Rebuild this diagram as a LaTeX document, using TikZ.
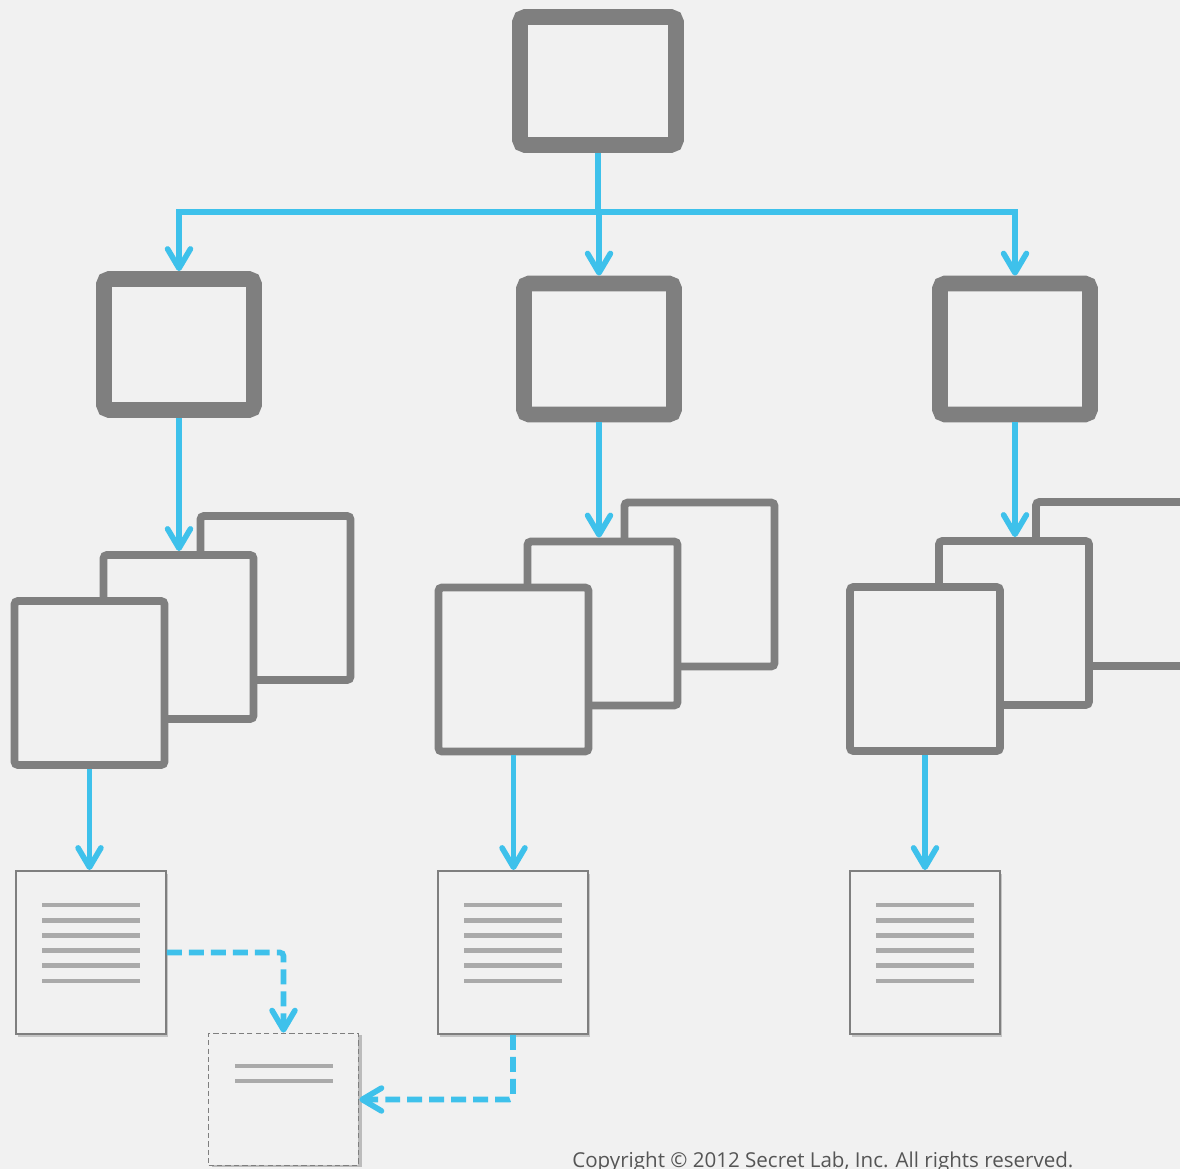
\documentclass[tikz,border=0pt]{standalone}
\usepackage{fontspec}
\setmainfont{Open Sans}
\usetikzlibrary{arrows.meta,shadows}
\definecolor{paper}{HTML}{F1F1F1}
\definecolor{framegray}{HTML}{7F7F7F}
\definecolor{flowblue}{HTML}{3EC1EB}
\definecolor{linegray}{HTML}{AAAAAA}
\definecolor{textgray}{HTML}{555555}

\begin{document}
\begin{tikzpicture}[x=0.02cm, y=-0.02cm,
    shade/.style={drop shadow={shadow xshift=1pt, shadow yshift=-1.5pt, opacity=.18, fill=black}},
    bigbox/.style={draw=framegray, line width=9pt, fill=paper, rounded corners=3pt, inner sep=0pt, shade},
    sheet/.style={draw=framegray, line width=4.5pt, fill=paper, rounded corners=2pt, inner sep=0pt,
        minimum width=3cm, minimum height=3.28cm, shade},
    doc/.style={draw=framegray, line width=1.1pt, fill=paper, inner sep=0pt,
        minimum width=3cm, minimum height=3.26cm, shade},
    note/.style={draw=framegray, line width=1pt, dash pattern=on 3pt off 1.8pt, fill=paper, inner sep=0pt,
        minimum width=3cm, minimum height=2.64cm,
        drop shadow={shadow xshift=2pt, shadow yshift=-1pt, opacity=.22, fill=black}},
    textline/.style={linegray, line width=2.8pt},
    flow/.style={flowblue, line width=3.2pt, -{Straight Barb[length=11pt, width=13pt, round]}},
    hop/.style={flowblue, line width=3.2pt},
    dflow/.style={flow, dash pattern=on 8.5pt off 4pt, rounded corners=2pt}]
    \path[use as bounding box, fill=paper] (0,0) rectangle (1180,1169);

    \node[bigbox, minimum width=3.12cm, minimum height=2.56cm] (root) at (598,81) {};
    \node[bigbox, minimum width=3cm, minimum height=2.62cm] (lview) at (179,344.5) {};
    \node[bigbox, minimum width=3cm, minimum height=2.62cm] (mview) at (599,349) {};
    \node[bigbox, minimum width=3cm, minimum height=2.62cm] (rview) at (1015,349) {};

    \foreach \s/\x/\y in {l/89.5/683, m/513.5/669.5, r/925/669}{
        \node[sheet] (\s back) at (\x+186,\y-85) {};
        \node[sheet] (\s mid) at (\x+89,\y-46) {};
        \node[sheet] (\s front) at (\x,\y) {};
    }

    \foreach \s/\x in {l/91, m/513, r/925}{
        \node[doc] (\s doc) at (\x,952.5) {};
        \foreach \i in {0,...,5}
            \draw[textline] ([shift={(-49,-47.5+15.2*\i)}]\s doc.center) -- ++(98,0);
    }

    \node[note] (note) at (283.5,1099.5) {};
    \draw[textline] ([shift={(-48.5,-33.5)}]note.center) -- ++(98,0);
    \draw[textline] ([shift={(-48.5,-18.5)}]note.center) -- ++(98,0);

    \coordinate (split) at (598,212);
    \draw[hop] (root) -- (split);
    \foreach \s in {l,m,r}{
        \draw[flow] (split) -| (\s view.north);
        \draw[flow] (\s view.south) -- (\s view.south |- \s mid.north);
        \draw[flow] (\s front.south) -- (\s front.south |- \s doc.north);
    }

    \draw[dflow] (ldoc.east) -| (note.north);
    \draw[dflow] (mdoc.south) |- (note.east);

    \node[anchor=base west, inner sep=0pt, text=textgray, font=\fontsize{11.7}{14}\selectfont] (copy)
        at (572,1167) {Copyright © 2012 Secret Lab, Inc. All rights reserved.};
\end{tikzpicture}
\end{document}
